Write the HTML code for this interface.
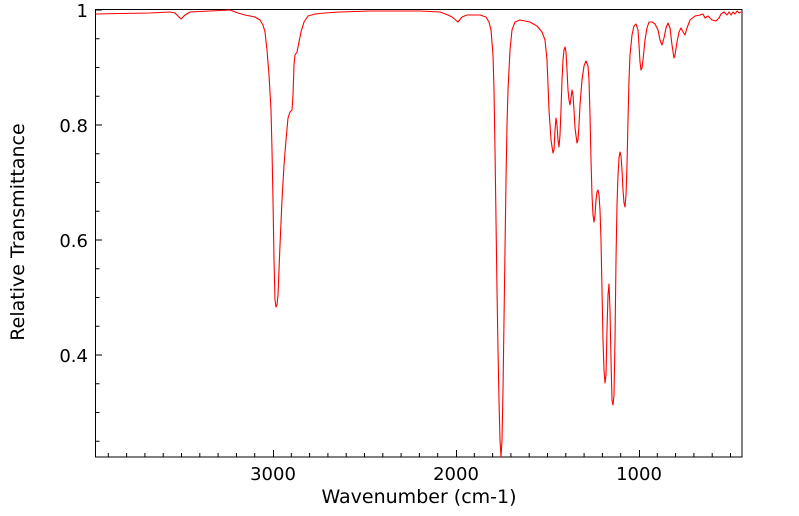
<!DOCTYPE html>
<html><head><meta charset="utf-8"><style>
html,body{margin:0;padding:0;background:#fff;}
svg{display:block;font-family:"DejaVu Sans","Liberation Sans",sans-serif;}
</style></head><body>
<svg width="799" height="516" viewBox="0 0 799 516" xmlns="http://www.w3.org/2000/svg">
<rect width="799" height="516" fill="#fff"/>
<g stroke="#000" stroke-width="1" fill="none">
<rect x="95.5" y="9.5" width="646.5" height="447.5"/>
<path d="M95.5 10H102 M95.5 125H102 M95.5 240H102 M95.5 355H102
M95.5 38.75H99.5 M95.5 67.5H99.5 M95.5 96.25H99.5 M95.5 153.75H99.5 M95.5 182.5H99.5 M95.5 211.25H99.5 M95.5 268.75H99.5 M95.5 297.5H99.5 M95.5 326.25H99.5 M95.5 383.75H99.5 M95.5 412.5H99.5 M95.5 441.25H99.5"/>
<path d="M273.5 457V450 M456.5 457V450 M639.5 457V450
M108.3 457V453 M126.6 457V453 M144.9 457V453 M163.2 457V453 M181.5 457V453 M199.8 457V453 M218.1 457V453 M236.4 457V453 M254.7 457V453
M291.3 457V453 M309.6 457V453 M327.9 457V453 M346.2 457V453 M364.5 457V453 M382.8 457V453 M401.1 457V453 M419.4 457V453 M437.7 457V453
M474.3 457V453 M492.6 457V453 M510.9 457V453 M529.2 457V453 M547.5 457V453 M565.8 457V453 M584.1 457V453 M602.4 457V453 M620.7 457V453
M657.3 457V453 M675.6 457V453 M693.9 457V453 M712.2 457V453 M730.5 457V453"/>
</g>
<g font-size="18" fill="#000">
<text x="88" y="17" text-anchor="end">1</text>
<text x="88" y="132" text-anchor="end">0.8</text>
<text x="88" y="247" text-anchor="end">0.6</text>
<text x="88" y="362" text-anchor="end">0.4</text>
<text x="273" y="480" text-anchor="middle">3000</text>
<text x="456" y="480" text-anchor="middle">2000</text>
<text x="639" y="480" text-anchor="middle">1000</text>
<text x="419" y="503" text-anchor="middle" font-size="19">Wavenumber (cm-1)</text>
<text transform="translate(24,232) rotate(-90)" text-anchor="middle" font-size="19">Relative Transmittance</text>
</g>
<path fill="none" stroke="#ff0000" stroke-width="1.1" stroke-linejoin="round" d="
M96 14 L120 13.5 L150 13 L170 12 L175 13 L181 19 L185 15 L190 12 L210 11 L230 10 L238 13 L245 15 L255 17 L260 20 L263 25 L265 32 L267 50 L269 75 L271 110 L272 150 L273 200 L274 260 L275 300 L276 307 L277 305 L278 295 L279 270 L280 245 L282 200 L284 165 L286 140 L288 118 L290 112 L292 110 L293 95 L294 65 L295 55 L297 52 L299 42 L301 32 L304 22 L308 16 L315 14 L325 13 L340 12 L370 11 L400 11 L420 11 L440 12 L448 15 L452 17 L458 22 L462 17 L467 15 L480 15 L486 17 L489 22 L491 30 L493 55 L494 90 L495 150 L496 220 L497 290 L498 350 L499 400 L500 440 L501 457 L502 440 L503 390 L504 320 L505 250 L506 180 L507 125 L508 90 L510 50 L512 30 L515 22 L520 20 L530 22 L537 26 L542 32 L545 40 L547 60 L549 110 L551 140 L553 153 L554 150 L555 130 L556 118 L557 125 L558 140 L559 147 L560 135 L561 110 L562 80 L563 60 L564 50 L565 47 L566 52 L567 70 L568 90 L569 100 L570 105 L571 98 L572 90 L573 95 L574 110 L575 128 L577 143 L578 140 L579 125 L580 105 L582 80 L584 66 L586 61 L588 66 L589 80 L590 115 L591 160 L592 195 L593 215 L594 222 L595 215 L596 200 L597 192 L598 190 L599 195 L600 210 L601 240 L602 290 L603 340 L604 370 L605 383 L606 375 L607 330 L608 295 L609 284 L610 310 L611 360 L612 400 L613 405 L614 395 L615 340 L616 260 L617 205 L618 175 L619 158 L620 152 L621 156 L622 170 L623 190 L624 203 L625 207 L626 195 L627 165 L628 120 L629 80 L630 55 L632 35 L634 26 L636 24 L638 30 L639 45 L640 62 L641 70 L642 68 L643 60 L645 40 L647 28 L649 22 L652 22 L655 24 L658 30 L660 40 L662 45 L664 38 L666 28 L668 23 L670 28 L672 45 L674 58 L675 55 L677 42 L679 32 L681 28 L683 32 L685 35 L687 28 L690 20 L695 16 L700 15 L703 14 L705 18 L708 16 L712 20 L716 21 L719 18 L721 14 L724 12 L727 15 L729 12 L731 15 L733 12 L735 14 L737 11 L739 13 L741 12"/>
</svg>
</body></html>
